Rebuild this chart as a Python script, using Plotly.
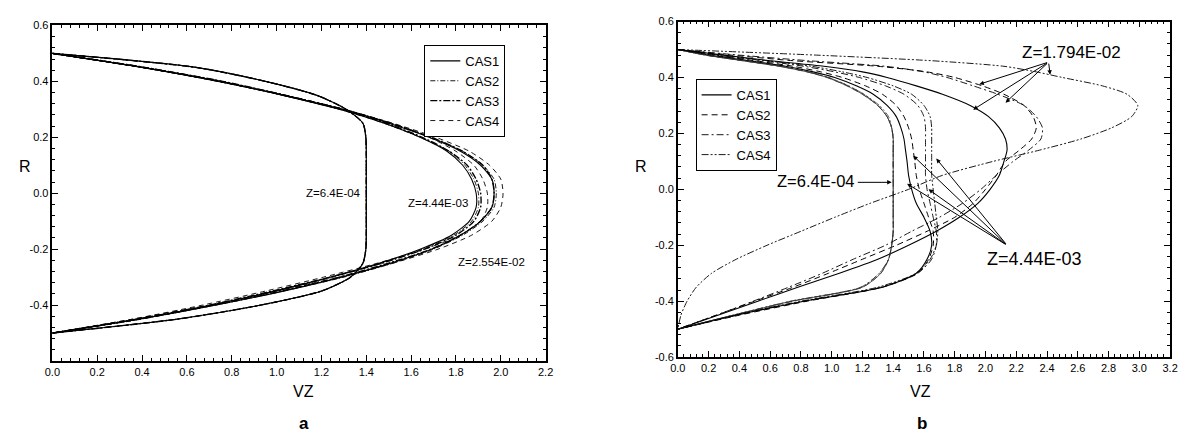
import plotly.graph_objects as go

# ---------------- data: panel a ----------------
R_A = [0.5, 0.45, 0.4, 0.35, 0.3, 0.25, 0.2, 0.15, 0.1, 0.05, 0.0,
       -0.05, -0.1, -0.15, -0.2, -0.25, -0.3, -0.35, -0.4, -0.45, -0.5]

# Z = 6.4E-04
A_Z1_CAS1 = [0, 0.64, 0.95, 1.18, 1.31, 1.385, 1.398, 1.4, 1.4, 1.4, 1.4, 1.4, 1.4, 1.4, 1.398, 1.385, 1.33, 1.2, 0.93, 0.56, 0]
A_Z1_CAS2 = [0, 0.64, 0.95, 1.18, 1.31, 1.385, 1.398, 1.4, 1.4, 1.4, 1.4, 1.4, 1.4, 1.4, 1.398, 1.385, 1.33, 1.2, 0.93, 0.56, 0]
A_Z1_CAS3 = [0, 0.64, 0.95, 1.18, 1.31, 1.385, 1.398, 1.4, 1.4, 1.4, 1.4, 1.4, 1.4, 1.4, 1.398, 1.385, 1.33, 1.2, 0.93, 0.56, 0]
A_Z1_CAS4 = [0, 0.64, 0.95, 1.18, 1.31, 1.385, 1.398, 1.4, 1.4, 1.4, 1.4, 1.4, 1.4, 1.4, 1.398, 1.385, 1.33, 1.2, 0.93, 0.56, 0]
# Z = 4.44E-03
A_Z2_CAS1 = [0, 0.4, 0.74, 1.03, 1.28, 1.48, 1.64, 1.76, 1.83, 1.87, 1.89, 1.89, 1.86, 1.78, 1.64, 1.46, 1.24, 0.99, 0.71, 0.39, 0]
A_Z2_CAS2 = [0, 0.4, 0.74, 1.03, 1.28, 1.48, 1.64, 1.77, 1.84, 1.88, 1.9, 1.9, 1.87, 1.79, 1.65, 1.47, 1.25, 1.0, 0.72, 0.4, 0]
A_Z2_CAS3 = [0, 0.41, 0.75, 1.04, 1.29, 1.49, 1.65, 1.77, 1.85, 1.89, 1.91, 1.91, 1.88, 1.8, 1.66, 1.47, 1.24, 0.98, 0.7, 0.38, 0]
A_Z2_CAS4 = [0, 0.4, 0.74, 1.04, 1.3, 1.51, 1.68, 1.8, 1.88, 1.92, 1.94, 1.94, 1.91, 1.82, 1.66, 1.45, 1.21, 0.95, 0.67, 0.36, 0]
# Z = 2.554E-02
A_Z3_CAS1 = [0, 0.4, 0.75, 1.03, 1.29, 1.5, 1.68, 1.82, 1.91, 1.96, 1.97, 1.96, 1.91, 1.82, 1.69, 1.51, 1.29, 1.03, 0.73, 0.39, 0]
A_Z3_CAS2 = [0, 0.4, 0.75, 1.04, 1.3, 1.51, 1.69, 1.83, 1.92, 1.97, 1.98, 1.97, 1.92, 1.83, 1.7, 1.52, 1.3, 1.03, 0.73, 0.39, 0]
A_Z3_CAS3 = [0, 0.41, 0.76, 1.04, 1.3, 1.51, 1.69, 1.83, 1.92, 1.96, 1.97, 1.96, 1.91, 1.82, 1.69, 1.5, 1.28, 1.02, 0.72, 0.38, 0]
A_Z3_CAS4 = [0, 0.4, 0.74, 1.03, 1.3, 1.52, 1.71, 1.86, 1.95, 2.0, 2.01, 2.0, 1.96, 1.87, 1.72, 1.52, 1.28, 1.0, 0.7, 0.36, 0]

# ---------------- data: panel b ----------------
R_B = [0.5, 0.48, 0.46, 0.44, 0.42, 0.4, 0.37, 0.34, 0.3, 0.26, 0.22, 0.18, 0.14,
       0.1, 0.05, 0.0, -0.05, -0.1, -0.15, -0.2, -0.25, -0.3, -0.35, -0.4, -0.45, -0.5]

# Z = 6.4E-04
B_Z1_CAS1 = [0, 0.18, 0.42, 0.66, 0.84, 0.97, 1.1, 1.2, 1.3, 1.36, 1.39, 1.4, 1.4, 1.4, 1.4, 1.4, 1.4, 1.4, 1.4, 1.39, 1.37, 1.32, 1.2, 0.74, 0.36, 0]
B_Z1_CAS2 = [0, 0.18, 0.42, 0.66, 0.84, 0.97, 1.1, 1.2, 1.3, 1.36, 1.39, 1.4, 1.4, 1.4, 1.4, 1.4, 1.4, 1.4, 1.4, 1.39, 1.37, 1.32, 1.2, 0.75, 0.37, 0]
B_Z1_CAS3 = [0, 0.18, 0.43, 0.67, 0.85, 0.98, 1.11, 1.21, 1.3, 1.36, 1.39, 1.4, 1.4, 1.4, 1.4, 1.4, 1.4, 1.4, 1.4, 1.39, 1.37, 1.31, 1.19, 0.74, 0.36, 0]
B_Z1_CAS4 = [0, 0.19, 0.43, 0.67, 0.85, 0.98, 1.11, 1.21, 1.31, 1.37, 1.39, 1.4, 1.4, 1.4, 1.4, 1.4, 1.4, 1.4, 1.4, 1.39, 1.37, 1.31, 1.19, 0.73, 0.36, 0]
# Z = 4.44E-03
B_Z2_CAS1 = [0, 0.2, 0.46, 0.7, 0.88, 1.02, 1.16, 1.27, 1.36, 1.42, 1.45, 1.47, 1.48, 1.49, 1.5, 1.52, 1.55, 1.6, 1.64, 1.65, 1.62, 1.55, 1.33, 0.82, 0.38, 0]
B_Z2_CAS2 = [0, 0.22, 0.5, 0.75, 0.93, 1.07, 1.22, 1.33, 1.42, 1.47, 1.5, 1.52, 1.53, 1.54, 1.55, 1.57, 1.6, 1.63, 1.66, 1.66, 1.63, 1.56, 1.33, 0.84, 0.4, 0]
B_Z2_CAS3 = [0, 0.25, 0.55, 0.82, 1.02, 1.18, 1.35, 1.47, 1.56, 1.6, 1.61, 1.61, 1.61, 1.61, 1.61, 1.62, 1.64, 1.66, 1.68, 1.68, 1.65, 1.56, 1.32, 0.82, 0.38, 0]
B_Z2_CAS4 = [0, 0.27, 0.58, 0.87, 1.07, 1.23, 1.4, 1.52, 1.6, 1.64, 1.65, 1.65, 1.65, 1.65, 1.65, 1.66, 1.67, 1.68, 1.69, 1.68, 1.64, 1.55, 1.3, 0.8, 0.37, 0]
# Z = 1.794E-02
B_Z3_CAS1 = [0, 0.3, 0.6, 0.95, 1.2, 1.36, 1.55, 1.72, 1.9, 2.02, 2.09, 2.13, 2.14, 2.12, 2.09, 2.03, 1.95, 1.83, 1.68, 1.5, 1.3, 1.05, 0.78, 0.52, 0.26, 0]
B_Z3_CAS2 = [0, 0.35, 0.75, 1.3, 1.62, 1.8, 1.98, 2.12, 2.25, 2.31, 2.33, 2.3, 2.22, 2.13, 2.07, 2.0, 1.92, 1.8, 1.62, 1.42, 1.2, 0.98, 0.75, 0.5, 0.25, 0]
B_Z3_CAS3 = [0, 0.4, 0.85, 1.35, 1.6, 1.75, 1.92, 2.08, 2.25, 2.33, 2.37, 2.36, 2.28, 2.18, 2.07, 1.97, 1.85, 1.7, 1.52, 1.35, 1.14, 0.94, 0.72, 0.49, 0.25, 0]
B_Z3_CAS4 = [0, 0.9, 1.65, 2.12, 2.33, 2.5, 2.76, 2.92, 2.99, 2.95, 2.82, 2.62, 2.35, 2.05, 1.72, 1.5, 1.25, 1.02, 0.8, 0.58, 0.38, 0.22, 0.12, 0.06, 0.02, 0]

CASES = ["CAS1", "CAS2", "CAS3", "CAS4"]
X_TICKS_A = [0.0, 0.2, 0.4, 0.6, 0.8, 1.0, 1.2, 1.4, 1.6, 1.8, 2.0, 2.2]
Y_TICKS_A = [-0.4, -0.2, 0.0, 0.2, 0.4, 0.6]
X_TICKS_B = [0.0, 0.2, 0.4, 0.6, 0.8, 1.0, 1.2, 1.4, 1.6, 1.8, 2.0, 2.2, 2.4, 2.6, 2.8, 3.0, 3.2]
Y_TICKS_B = [-0.6, -0.4, -0.2, 0.0, 0.2, 0.4, 0.6]

# ---------------- styles ----------------
STYLE_A = {
    "CAS1": dict(color="black", width=1.1, dash="solid"),
    "CAS2": dict(color="black", width=0.9, dash="5px,2px,1px,2px"),
    "CAS3": dict(color="black", width=1.4, dash="7px,2px,2px,2px"),
    "CAS4": dict(color="black", width=0.9, dash="5px,4px"),
}
STYLE_B = {
    "CAS1": dict(color="black", width=1.1, dash="solid"),
    "CAS2": dict(color="black", width=1.0, dash="6px,4px"),
    "CAS3": dict(color="black", width=0.9, dash="7px,3px,2px,3px"),
    "CAS4": dict(color="black", width=0.9, dash="7px,2px,2px,2px,2px,2px"),
}

fig = go.Figure()

panel_a = {"CAS1": [A_Z1_CAS1, A_Z2_CAS1, A_Z3_CAS1],
           "CAS2": [A_Z1_CAS2, A_Z2_CAS2, A_Z3_CAS2],
           "CAS3": [A_Z1_CAS3, A_Z2_CAS3, A_Z3_CAS3],
           "CAS4": [A_Z1_CAS4, A_Z2_CAS4, A_Z3_CAS4]}
panel_b = {"CAS1": [B_Z1_CAS1, B_Z2_CAS1, B_Z3_CAS1],
           "CAS2": [B_Z1_CAS2, B_Z2_CAS2, B_Z3_CAS2],
           "CAS3": [B_Z1_CAS3, B_Z2_CAS3, B_Z3_CAS3],
           "CAS4": [B_Z1_CAS4, B_Z2_CAS4, B_Z3_CAS4]}

for cas in CASES:
    for i, vz in enumerate(panel_a[cas]):
        fig.add_trace(go.Scatter(
            x=vz, y=R_A, mode="lines", name=cas, legendgroup="a" + cas,
            showlegend=(i == 2), legend="legend",
            line=dict(shape="spline", smoothing=0.7, **STYLE_A[cas]),
            xaxis="x", yaxis="y"))
for cas in CASES:
    for i, vz in enumerate(panel_b[cas]):
        st = dict(STYLE_B[cas])
        if i == 0:
            st["width"] = 0.8
            st["color"] = "#333333"
        fig.add_trace(go.Scatter(
            x=vz, y=R_B, mode="lines", name=cas, legendgroup="b" + cas,
            showlegend=(i == 2), legend="legend2",
            line=dict(shape="spline", smoothing=0.7, **st),
            xaxis="x2", yaxis="y2"))

W, H = 1186, 438
FONT = "Liberation Sans, Arial, sans-serif"


def axis_common():
    return dict(showline=True, linecolor="black", linewidth=1.5, mirror="allticks",
                ticks="inside", ticklen=6, tickwidth=1.2, tickcolor="black",
                showgrid=False, zeroline=False,
                tickfont=dict(family=FONT, size=11, color="black"))


xa = axis_common()
xa.update(domain=[45 / W, 545 / W], range=[0, 2.2], anchor="y",
          tickvals=X_TICKS_A, ticktext=["%.1f" % v for v in X_TICKS_A],
          minor=dict(ticks="inside", ticklen=3, dtick=0.04, tick0=0, tickcolor="black"))
ya = axis_common()
ya.update(domain=[1 - 365 / H, 1 - 20 / H], range=[-0.6, 0.6], anchor="x",
          tickvals=Y_TICKS_A, ticktext=["%.1f" % v for v in Y_TICKS_A],
          minor=dict(ticks="inside", ticklen=3, dtick=0.04, tick0=0, tickcolor="black"))
xb = axis_common()
xb.update(domain=[679 / W, 1178 / W], range=[0, 3.2], anchor="y2",
          tickvals=X_TICKS_B, ticktext=["%.1f" % v for v in X_TICKS_B],
          minor=dict(ticks="inside", ticklen=3, dtick=0.04, tick0=0, tickcolor="black"))
yb = axis_common()
yb.update(domain=[1 - 361 / H, 1 - 16 / H], range=[-0.6, 0.6], anchor="x2",
          tickvals=Y_TICKS_B, ticktext=["%.1f" % v for v in Y_TICKS_B],
          minor=dict(ticks="inside", ticklen=3, dtick=0.04, tick0=0, tickcolor="black"))

ann = []
# axis titles and panel labels
for (px, py, txt, sz, bold) in [(17, 165, "R", 16, False), (300, 396, "VZ", 16, False),
                                (642, 165, "R", 16, False), (925, 396, "VZ", 16, False),
                                (300, 429, "a", 17, True), (926, 429, "b", 17, True)]:
    ann.append(dict(x=px / W, y=1 - py / H, xref="paper", yref="paper", text=("<b>%s</b>" % txt) if bold else txt,
                    showarrow=False, xanchor="center", yanchor="middle",
                    font=dict(family=FONT, size=sz, color="black")))

# panel a labels
for (vx, vy, txt) in [(1.255, 0.0, "Z=6.4E-04"), (1.72, -0.035, "Z=4.44E-03"), (1.96, -0.247, "Z=2.554E-02")]:
    ann.append(dict(x=vx, y=vy, xref="x", yref="y", text=txt, showarrow=False,
                    font=dict(family=FONT, size=11.5, color="black")))

# panel b labels
for (vx, vy, txt, sz) in [(0.9, 0.03, "Z=6.4E-04", 16.5), (2.56, 0.49, "Z=1.794E-02", 17),
                          (2.32, -0.25, "Z=4.44E-03", 18)]:
    ann.append(dict(x=vx, y=vy, xref="x2", yref="y2", text=txt, showarrow=False,
                    font=dict(family=FONT, size=sz, color="black")))

# panel b arrows
ARROWS_B = [((1.16, 0.025), (1.39, 0.025)),
            ((2.41, 0.455), (1.96, 0.376)), ((2.41, 0.455), (1.92, 0.285)),
            ((2.41, 0.455), (2.13, 0.31)), ((2.41, 0.455), (2.42, 0.41)),
            ((2.14, -0.2), (1.53, 0.12)), ((2.14, -0.2), (1.68, 0.11)),
            ((2.14, -0.2), (1.49, 0.02)), ((2.14, -0.2), (1.63, 0.0))]
for (tail, head) in ARROWS_B:
    ann.append(dict(x=head[0], y=head[1], ax=tail[0], ay=tail[1], xref="x2", yref="y2",
                    axref="x2", ayref="y2", text="", showarrow=True, arrowhead=2,
                    arrowsize=0.9, arrowwidth=1, arrowcolor="black"))

fig.update_layout(
    width=W, height=H, margin=dict(l=0, r=0, t=0, b=0),
    paper_bgcolor="white", plot_bgcolor="white",
    xaxis=xa, yaxis=ya, xaxis2=xb, yaxis2=yb,
    annotations=ann,
    legend=dict(x=422 / W, y=1 - 40 / H, xanchor="left", yanchor="top",
                bordercolor="black", borderwidth=1, bgcolor="white",
                font=dict(family=FONT, size=13, color="black"), tracegroupgap=0,
                itemwidth=30),
    legend2=dict(x=697 / W, y=1 - 75 / H, xanchor="left", yanchor="top",
                 bordercolor="black", borderwidth=1, bgcolor="white",
                 font=dict(family=FONT, size=13, color="black"), tracegroupgap=0,
                 itemwidth=30),
    showlegend=True,
)

fig.write_html("out.html", config={"displayModeBar": False})

# remove default page margins so the figure sits at the window origin
with open("out.html", "r", encoding="utf-8") as f:
    html = f.read()
html = html.replace("<head>", "<head><style>html,body{margin:0;padding:0;overflow:hidden;}</style>", 1)
with open("out.html", "w", encoding="utf-8") as f:
    f.write(html)
